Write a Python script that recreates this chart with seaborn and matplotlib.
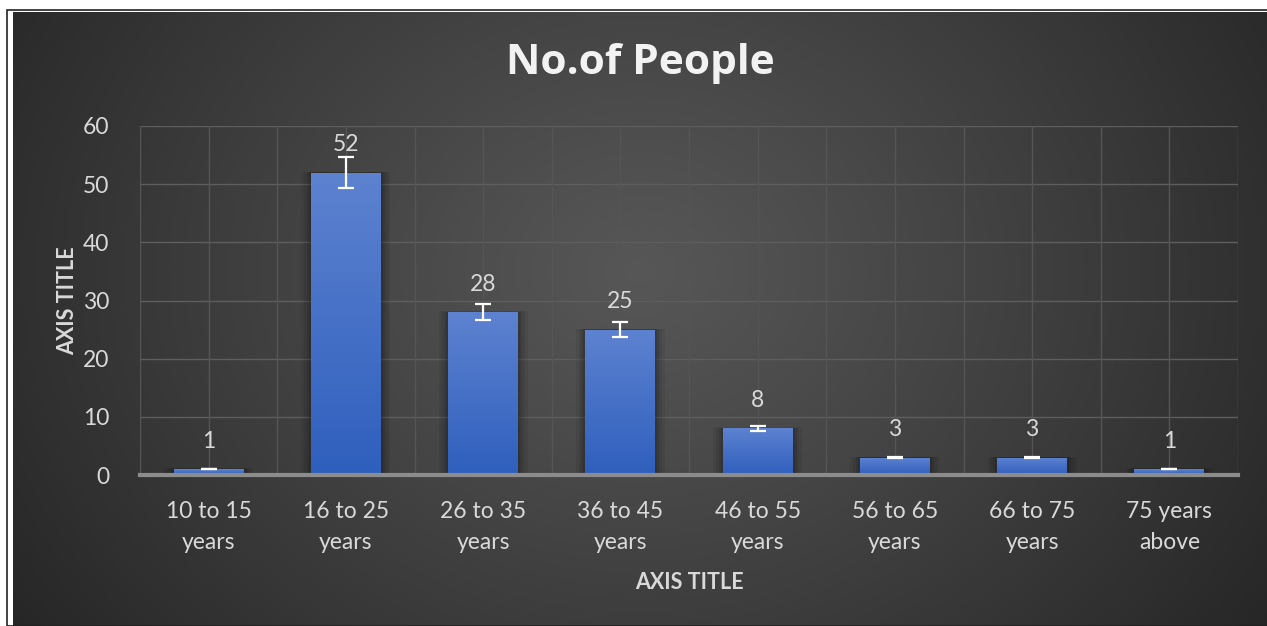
import numpy as np
import matplotlib
matplotlib.use("Agg")
import matplotlib.pyplot as plt
from matplotlib.patches import Rectangle
from matplotlib.colors import LinearSegmentedColormap
import seaborn as sns
import pandas as pd

categories = ["10 to 15\nyears", "16 to 25\nyears", "26 to 35\nyears", "36 to 45\nyears",
              "46 to 55\nyears", "56 to 65\nyears", "66 to 75\nyears", "75 years\nabove"]
values = [1, 52, 28, 25, 8, 3, 3, 1]
errors = [0.05, 2.6, 1.4, 1.25, 0.4, 0.15, 0.15, 0.05]
y_ticks = [0, 10, 20, 30, 40, 50, 60]

sns.set_theme(style="dark")
plt.rcParams['font.family'] = ['Lato', 'DejaVu Sans']

W, H = 1267, 626
fig = plt.figure(figsize=(W / 100, H / 100), dpi=100)
fig.patch.set_facecolor("white")

# outer thin frame line
fig.add_artist(Rectangle((7 / W, 0), 1, (H - 10) / H, transform=fig.transFigure,
                         fill=False, edgecolor="#222222", linewidth=1.2))

# background with radial gradient
bg = fig.add_axes([13 / W, 0, 1 - 13 / W, (H - 12) / H])
bg.set_axis_off()
yy, xx = np.mgrid[0:300, 0:600]
cy = 300 * 0.42
d = np.sqrt(((xx - 300) / 600) ** 2 + ((yy - cy) / 300) ** 2 * 0.35)
d = d / d.max()
light = 0.34 - 0.19 * d ** 1.1
img = np.dstack([light, light, light])
bg.imshow(img, aspect="auto", extent=[0, 1, 0, 1], interpolation="bilinear")
bg.set_xlim(0, 1)
bg.set_ylim(0, 1)

ax = fig.add_axes([140 / W, 1 - 475 / H, (1238 - 140) / W, (475 - 126) / H])
ax.patch.set_alpha(0)

df = pd.DataFrame({"cat": categories, "val": values})
sns.barplot(data=df, x="cat", y="val", ax=ax, color="#4472c4", width=0.51,
            saturation=1, errorbar=None, zorder=3, linewidth=0, edgecolor="none")

ax.set_ylim(0, 60)
ax.set_xlim(-0.5, len(categories) - 0.5)
ax.set_yticks(y_ticks)

# gradient fill + soft shadow for bars
grad = np.linspace(0, 1, 100).reshape(-1, 1)
cmap = LinearSegmentedColormap.from_list("b", ["#2f5fbd", "#5d82d0"])
for p in list(ax.patches):
    x0, w, h = p.get_x(), p.get_width(), p.get_height()
    for k, a in [(0.07, 0.06), (0.05, 0.07), (0.03, 0.09), (0.015, 0.1)]:
        ax.add_patch(Rectangle((x0 - k, 0), w + 2 * k, h + k * 2.5, facecolor="black",
                               alpha=a, linewidth=0, zorder=2))
    im = ax.imshow(grad, cmap=cmap, aspect="auto", origin="lower",
                   extent=[x0, x0 + w, 0, h], zorder=3.5)
    im.set_clip_path(p)
ax.set_xlim(-0.5, len(categories) - 0.5)
ax.set_ylim(0, 60)

xs = np.arange(len(categories))
ax.errorbar(xs, values, yerr=errors, fmt="none", ecolor="white", elinewidth=1.6,
            capsize=6, capthick=1.6, zorder=5)

for x, v in zip(xs, values):
    ax.annotate(str(v), (x, v), xytext=(0, 20), textcoords="offset points",
                ha="center", va="center", color="#d9d9d9", fontsize=16.5, zorder=6)

# grid
for yv in y_ticks[1:]:
    ax.axhline(yv, color="#5e5e5e", linewidth=1, zorder=0.5)
for xv in np.arange(-0.5, len(categories), 0.5):
    ax.axvline(xv, color="#555555", linewidth=1, zorder=0.5)

for s in ["top", "right", "left"]:
    ax.spines[s].set_visible(False)
ax.spines["bottom"].set_color("#8c8c8c")
ax.spines["bottom"].set_linewidth(3)
ax.spines["bottom"].set_zorder(6)

ax.tick_params(axis="both", length=0, colors="#d9d9d9", labelsize=16.5)
ax.tick_params(axis="x", pad=18.5)
ax.tick_params(axis="y", pad=22)
for t in ax.get_xticklabels():
    t.set_linespacing(1.6)

ax.set_xlabel("AXIS TITLE", color="#d9d9d9", fontsize=15.5, fontweight="bold", labelpad=13.5)
ax.set_ylabel("AXIS TITLE", color="#d9d9d9", fontsize=15.5, fontweight="bold", labelpad=3.5)

fig.text(640 / W, 1 - 64 / H, "No.of People", ha="center", va="center", color="#f2f2f2",
         fontsize=30.5, fontweight="bold", family=["Open Sans", "DejaVu Sans"])

fig.savefig("out.png", dpi=100, facecolor=fig.get_facecolor())
